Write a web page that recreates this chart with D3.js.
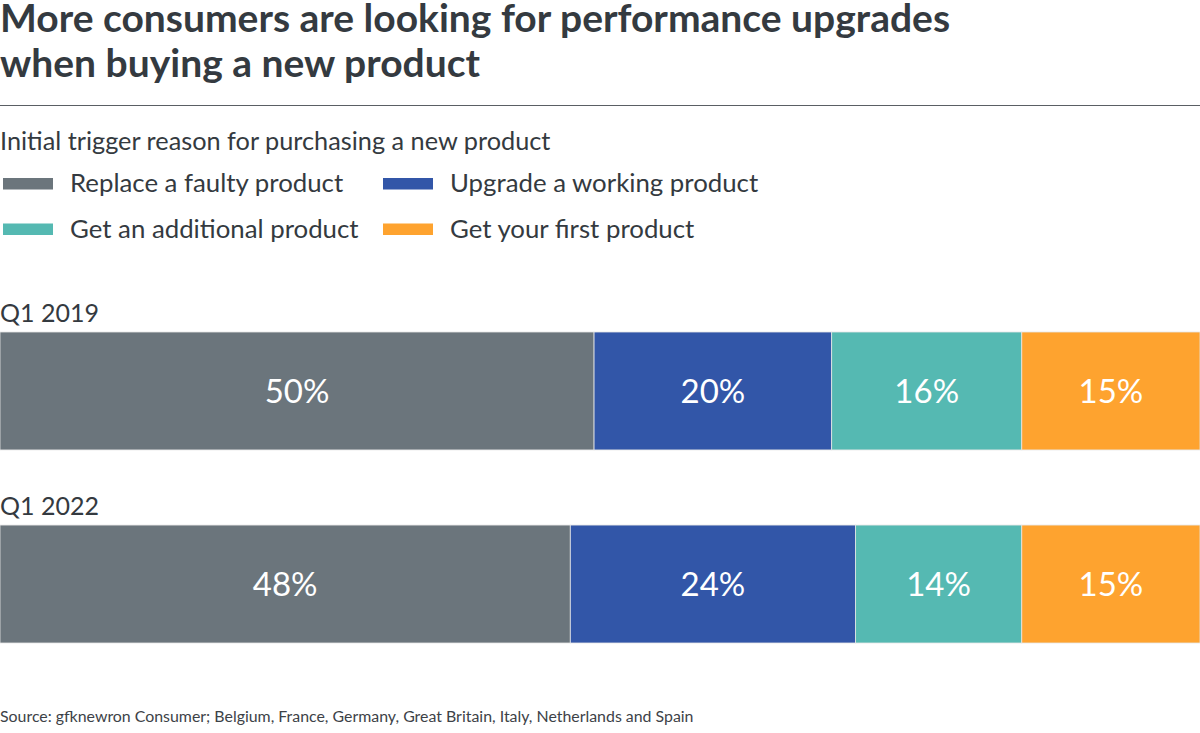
<!DOCTYPE html>
<html>
<head>
<meta charset="utf-8">
<script src="https://cdn.jsdelivr.net/npm/d3@7.9.0/dist/d3.min.js"></script>
<style>
  body { margin: 0; background: #fff; }
  svg { display: block; font-family: Lato, sans-serif; }
</style>
</head>
<body>
<svg id="chart" width="1200" height="733"></svg>
<script>
// Data
const periods = ['Q1 2019', 'Q1 2022'];
const reasons = ['Replace a faulty product', 'Upgrade a working product', 'Get an additional product', 'Get your first product'];
const replaceFaulty = [50, 48];
const upgradeWorking = [20, 24];
const getAdditional = [16, 14];
const getFirst = [15, 15];
const colors = ['#6b757c', '#3256a8', '#55b9b2', '#fea32f'];

const textColor = '#343a40';
const svg = d3.select('#chart');

// Title
const title = svg.append('text')
    .attr('fill', textColor)
    .attr('font-weight', 700)
    .attr('font-size', 39);
title.append('tspan').attr('x', 0).attr('y', 31.5).text('More consumers are looking for performance upgrades');
title.append('tspan').attr('x', 0).attr('y', 77).text('when buying a new product');

svg.append('line')
    .attr('x1', 0).attr('x2', 1200)
    .attr('y1', 105.5).attr('y2', 105.5)
    .attr('stroke', '#5a5f64').attr('stroke-width', 1);

svg.append('text')
    .attr('x', 0).attr('y', 150)
    .attr('fill', textColor)
    .attr('font-size', 25.3)
    .text('Initial trigger reason for purchasing a new product');

// Legend
const legend = svg.append('g');
reasons.forEach((r, i) => {
    const col = i % 2, row = Math.floor(i / 2);
    const g = legend.append('g')
        .attr('transform', `translate(${3 + col * 380}, ${178 + row * 45.5})`);
    g.append('rect').attr('width', 50).attr('height', 11.5).attr('fill', colors[i]);
    g.append('text')
        .attr('x', 67).attr('y', 14)
        .attr('fill', textColor)
        .attr('font-size', 25.8)
        .text(r);
});

// Stacked bars
const table = periods.map((p, i) => ({
    period: p,
    [reasons[0]]: replaceFaulty[i],
    [reasons[1]]: upgradeWorking[i],
    [reasons[2]]: getAdditional[i],
    [reasons[3]]: getFirst[i]
}));
const stack = d3.stack().keys(reasons)(table);
const totals = table.map(d => d3.sum(reasons, k => d[k]));

const x = d3.scaleLinear().domain([0, d3.max(totals)]).range([0, 1200]);
const y = d3.scaleBand().domain(periods).range([332, 643]).paddingInner(0.389).paddingOuter(0);

svg.selectAll('.cat')
    .data(periods)
    .join('text')
    .attr('class', 'cat')
    .attr('x', 0)
    .attr('y', d => y(d) - 10)
    .attr('fill', textColor)
    .attr('font-size', 25)
    .text(d => d);

const layers = svg.selectAll('.layer')
    .data(stack)
    .join('g')
    .attr('class', 'layer')
    .attr('fill', (d, i) => colors[i]);

layers.selectAll('rect')
    .data(d => d)
    .join('rect')
    .attr('x', d => x(d[0]))
    .attr('y', d => y(d.data.period))
    .attr('width', d => x(d[1]) - x(d[0]))
    .attr('height', y.bandwidth())
    .attr('stroke', '#e6e6e6')
    .attr('stroke-width', 0.8);

layers.selectAll('text')
    .data(d => d)
    .join('text')
    .attr('x', d => (x(d[0]) + x(d[1])) / 2)
    .attr('y', d => y(d.data.period) + y.bandwidth() / 2)
    .attr('dy', '0.36em')
    .attr('text-anchor', 'middle')
    .attr('fill', '#fff')
    .attr('font-size', 33)
    .text(d => `${d[1] - d[0]}%`);

// Source
svg.append('text')
    .attr('x', 0).attr('y', 722)
    .attr('fill', '#3d4247')
    .attr('font-size', 15.9)
    .text('Source: gfknewron Consumer; Belgium, France, Germany, Great Britain, Italy, Netherlands and Spain');
</script>
</body>
</html>
